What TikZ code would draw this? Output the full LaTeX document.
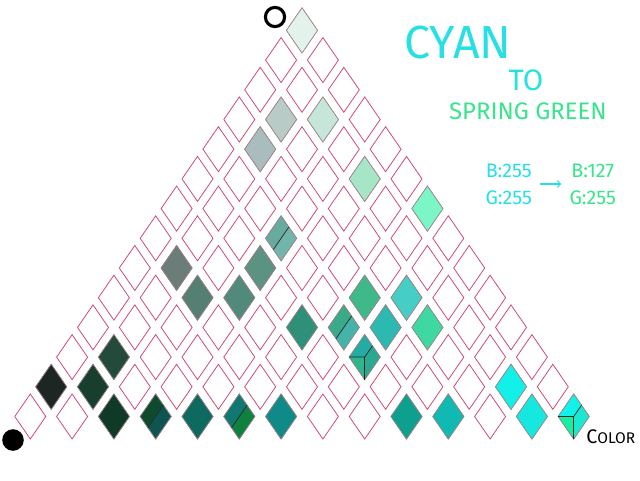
\documentclass[tikz,border=0pt]{standalone}
\usepackage{fontspec}
\setmainfont{Fira Sans}
\usetikzlibrary{shapes.geometric}
% ink and outline colours
\definecolor{cellpink}{RGB}{205,72,112}
\definecolor{inkcyan}{RGB}{40,224,228}
\definecolor{inkgreen}{RGB}{56,228,140}
% tile colours
\definecolor{tA}{HTML}{E4F2EC}
\definecolor{tB}{HTML}{B9CBC7}
\definecolor{tC}{HTML}{C6E6DA}
\definecolor{tD}{HTML}{A9BDBF}
\definecolor{tE}{HTML}{A6E6C6}
\definecolor{tF}{HTML}{7CF6C6}
\definecolor{tG}{HTML}{6B7D79}
\definecolor{tH}{HTML}{5C9282}
\definecolor{tI}{HTML}{557F72}
\definecolor{tJ}{HTML}{518A7B}
\definecolor{tK}{HTML}{3FB98A}
\definecolor{tL}{HTML}{46CEC6}
\definecolor{tM}{HTML}{2E9078}
\definecolor{tN}{HTML}{2BB9B2}
\definecolor{tO}{HTML}{3ED8A2}
\definecolor{tP}{HTML}{234A3A}
\definecolor{tQ}{HTML}{1E2624}
\definecolor{tR}{HTML}{183F2E}
\definecolor{tS}{HTML}{12F0E8}
\definecolor{tT}{HTML}{0E3A27}
\definecolor{tU}{HTML}{0E6A5E}
\definecolor{tV}{HTML}{0F8A88}
\definecolor{tW}{HTML}{0EA08E}
\definecolor{tX}{HTML}{10BAB2}
\definecolor{tY}{HTML}{16E8E0}
% split and cube faces
\definecolor{sAa}{HTML}{68AAA0}
\definecolor{sAb}{HTML}{72B5AA}
\definecolor{sBa}{HTML}{3BAA88}
\definecolor{sBb}{HTML}{44B3AA}
\definecolor{sCa}{HTML}{0E4A2E}
\definecolor{sCb}{HTML}{0E5552}
\definecolor{sDa}{HTML}{0F7872}
\definecolor{sDb}{HTML}{0E8040}
\definecolor{kAa}{HTML}{22ACA4}
\definecolor{kAb}{HTML}{2FB48E}
\definecolor{kAc}{HTML}{2AA890}
\definecolor{kBa}{HTML}{10F2EA}
\definecolor{kBb}{HTML}{14F0A0}
\definecolor{kBc}{HTML}{1CE8D2}
\tikzset{
  cell/.style={shape=diamond, draw=cellpink, line width=0.55pt,
    minimum width=0.775cm, minimum height=1.125cm, inner sep=0pt, outer sep=0pt},
  tile/.style={cell, draw=black!45, line width=0.4pt},
  facet/.style={draw=black!85, line width=0.5pt},
  hand/.style={inner sep=0pt}
}
\begin{document}
\begin{tikzpicture}
  \useasboundingbox (0,0) rectangle (16,12);
  % Triangle of diamonds
  \foreach \r in {0,...,13} {
    \foreach \j in {0,...,\r} {
      \node[cell] (d-\r-\j) at ({7.55+(\j-\r/2)*1.045},{11.24-0.7425*\r}) {};
    }
  }
  % Filled tiles
  \foreach \r/\j/\c in {0/0/tA, 3/1/tB, 3/2/tC, 4/1/tD, 5/4/tE, 6/6/tF,
      8/1/tG, 8/3/tH, 9/2/tI, 9/3/tJ, 9/6/tK, 9/7/tL, 10/5/tM, 10/7/tN,
      10/8/tO, 11/1/tP, 12/0/tQ, 12/1/tR, 12/11/tS, 13/2/tT, 13/4/tU,
      13/6/tV, 13/9/tW, 13/10/tX, 13/12/tY}
    \node[tile, fill=\c] (t-\r-\j) at (d-\r-\j) {};
  % Split tiles
  \foreach \r/\j/\ca/\cb in {7/3/sAa/sAb, 10/6/sBa/sBb, 13/3/sCa/sCb, 13/5/sDa/sDb} {
    \fill[\ca] (d-\r-\j.north east) -- (d-\r-\j.north) -- (d-\r-\j.west) -- (d-\r-\j.south west) -- cycle;
    \fill[\cb] (d-\r-\j.north east) -- (d-\r-\j.east) -- (d-\r-\j.south) -- (d-\r-\j.south west) -- cycle;
    \draw[black!45, line width=0.4pt] (d-\r-\j.north) -- (d-\r-\j.east) -- (d-\r-\j.south) -- (d-\r-\j.west) -- cycle;
    \draw[facet] (d-\r-\j.north east) -- (d-\r-\j.south west);
  }
  % Cube tiles
  \foreach \r/\j/\ca/\cb/\cc in {11/7/kAa/kAb/kAc, 13/13/kBa/kBb/kBc} {
    \fill[\ca] (d-\r-\j.north) -- (d-\r-\j.north east) -- (d-\r-\j.center) -- (d-\r-\j.west) -- cycle;
    \fill[\cb] (d-\r-\j.west) -- (d-\r-\j.center) -- (d-\r-\j.south) -- cycle;
    \fill[\cc] (d-\r-\j.center) -- (d-\r-\j.north east) -- (d-\r-\j.east) -- (d-\r-\j.south) -- cycle;
    \draw[black!45, line width=0.4pt] (d-\r-\j.north) -- (d-\r-\j.east) -- (d-\r-\j.south) -- (d-\r-\j.west) -- cycle;
    \draw[facet] (d-\r-\j.west) -- (d-\r-\j.center) -- (d-\r-\j.north east);
    \draw[facet] (d-\r-\j.center) -- (d-\r-\j.south);
  }
  % Corner marks
  \draw[line width=2.2pt] (6.875,11.575) circle (0.24);
  \fill (0.325,1.0) circle (0.27);
  \node[hand] (color) at (15.27,1.07) {{\fontsize{14}{14}\selectfont C}{\fontsize{11}{11}\selectfont OLOR}};
  % Title
  \node[hand, text=inkcyan, font=\fontsize{33}{33}\selectfont] (cyan) at (11.45,10.93) {CYAN};
  \node[hand, text=inkcyan, font=\fontsize{21}{21}\selectfont] (to) at (13.15,9.98) {TO};
  \node[hand, text=inkgreen, font=\fontsize{17}{17}\selectfont] (spring) at (13.2,9.22) {SPRING GREEN};
  % Channel values
  \node[hand, text=inkcyan, align=center, font=\fontsize{14}{19}\selectfont] (from) at (12.72,7.4) {B:255\\G:255};
  \node[hand, text=inkgreen, align=center, font=\fontsize{14}{19}\selectfont] (into) at (14.82,7.4) {B:127\\G:255};
  \draw[->, inkcyan, line width=1pt, shorten <=0.2cm, shorten >=0.2cm] (from) -- (into);
\end{tikzpicture}
\end{document}
